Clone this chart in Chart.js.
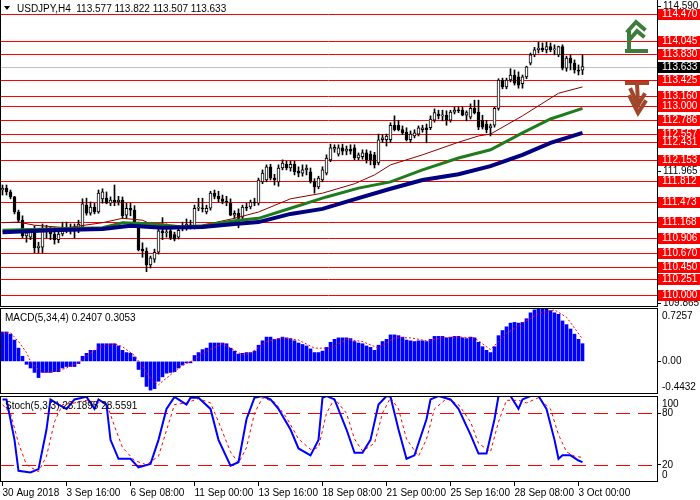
<!DOCTYPE html>
<html>
<head>
<meta charset="utf-8">
<title>USDJPY H4</title>
<script src="https://cdn.jsdelivr.net/npm/chart.js@4.4.1/dist/chart.umd.min.js"></script>
<style>
  body { margin: 0; background: #fff; }
  #wrap { position: relative; width: 700px; height: 500px; overflow: hidden; }
  canvas { position: absolute; left: 0; }
</style>
</head>
<body>
<div id="wrap">
  <canvas id="mainChart" width="700" height="307" style="top:0"></canvas>
  <canvas id="macdChart" width="700" height="87" style="top:308px"></canvas>
  <canvas id="stochChart" width="700" height="104" style="top:396px"></canvas>
</div>
<script>
// USDJPY H4 candles, 30 Aug - 3 Oct 2018
const opens = [111.67,111.70,111.64,111.56,111.32,111.19,110.94,110.92,111.02,110.75,
  110.76,111.05,111.02,110.97,110.88,110.97,111.08,111.05,111.07,111.03,
  111.08,111.43,111.30,111.40,111.32,111.53,111.54,111.46,111.51,111.48,
  111.51,111.27,111.38,111.35,111.13,110.73,110.70,110.48,110.57,110.68,
  111.02,110.99,111.02,110.96,110.92,111.05,111.08,111.11,111.08,111.38,
  111.38,111.32,111.38,111.62,111.57,111.53,111.49,111.46,111.27,111.30,
  111.24,111.40,111.40,111.48,111.46,111.80,111.83,112.04,111.86,111.80,
  112.02,112.08,112.02,112.08,111.97,111.94,111.99,111.96,111.80,111.72,
  111.83,111.94,112.15,112.32,112.24,112.34,112.29,112.32,112.34,112.18,
  112.20,112.26,112.24,112.23,112.10,112.47,112.47,112.47,112.70,112.70,
  112.63,112.59,112.47,112.53,112.56,112.63,112.66,112.66,112.78,112.88,
  112.85,112.86,112.78,112.91,112.94,112.94,112.86,112.83,112.97,112.91,
  112.78,112.72,112.66,112.70,112.97,113.42,113.31,113.42,113.50,113.47,
  113.36,113.47,113.69,113.82,113.90,113.93,113.90,113.95,113.90,113.82,
  113.95,113.61,113.77,113.69,113.58,113.577];
const highs = [111.75,111.75,111.67,111.57,111.35,111.26,111.05,111.05,111.10,110.84,
  111.13,111.11,111.08,111.07,111.03,111.16,111.16,111.13,111.13,111.19,
  111.53,111.54,111.48,111.46,111.67,111.69,111.64,111.56,111.75,111.57,
  111.56,111.46,111.46,111.42,111.16,110.83,110.75,110.62,110.73,111.07,
  111.23,111.13,111.07,111.00,111.07,111.16,111.21,111.19,111.43,111.54,
  111.54,111.43,111.65,111.67,111.65,111.59,111.57,111.53,111.34,111.37,
  111.43,111.46,111.51,111.54,111.86,111.99,112.07,112.08,111.92,112.07,
  112.15,112.13,112.13,112.13,112.04,112.07,112.07,112.02,111.85,111.89,
  112.04,112.23,112.40,112.39,112.39,112.40,112.37,112.39,112.39,112.26,
  112.31,112.31,112.29,112.27,112.56,112.55,112.56,112.74,112.85,112.78,
  112.69,112.66,112.61,112.63,112.69,112.70,112.72,112.85,112.96,112.94,
  112.94,112.93,112.94,112.99,112.99,112.99,112.93,113.04,113.10,113.10,
  112.86,112.78,112.72,112.99,113.44,113.45,113.45,113.60,113.58,113.55,
  113.50,113.64,113.85,113.94,114.02,114.01,114.02,114.01,113.98,113.96,
  113.98,113.80,113.82,113.74,113.66,113.822];
const lows = [111.59,111.59,111.53,111.29,111.16,110.91,110.84,110.88,110.67,110.67,
  110.67,110.91,110.88,110.81,110.83,110.94,110.99,110.97,110.91,110.99,
  111.03,111.27,111.27,111.29,111.30,111.46,111.45,111.42,111.42,111.43,
  111.22,111.22,111.26,111.14,110.70,110.60,110.37,110.43,110.52,110.65,
  110.88,110.92,110.88,110.86,110.89,111.02,111.03,111.05,111.05,111.34,
  111.32,111.29,111.35,111.53,111.48,111.45,111.42,111.26,111.22,111.07,
  111.21,111.34,111.37,111.42,111.43,111.77,111.80,111.83,111.75,111.73,
  111.99,111.99,111.97,111.91,111.88,111.89,111.91,111.78,111.62,111.69,
  111.80,111.91,112.12,112.27,112.21,112.23,112.23,112.24,112.15,112.15,
  112.16,112.10,112.07,112.02,112.07,112.43,112.37,112.43,112.61,112.61,
  112.55,112.45,112.43,112.50,112.53,112.59,112.42,112.63,112.75,112.80,
  112.77,112.70,112.75,112.88,112.90,112.85,112.77,112.80,112.88,112.63,
  112.64,112.58,112.53,112.67,112.94,113.28,113.28,113.39,113.34,113.29,
  113.29,113.44,113.66,113.79,113.85,113.87,113.85,113.87,113.82,113.79,
  113.58,113.56,113.58,113.53,113.50,113.507];
const closes = [111.70,111.64,111.56,111.32,111.19,110.94,110.99,111.00,110.75,110.78,
  111.05,111.02,110.97,110.88,110.97,111.08,111.05,111.07,111.03,111.13,
  111.45,111.30,111.40,111.32,111.62,111.64,111.46,111.51,111.48,111.51,
  111.26,111.38,111.35,111.16,110.72,110.70,110.48,110.59,110.68,111.02,
  110.99,111.00,110.91,110.89,111.03,111.10,111.13,111.10,111.38,111.40,
  111.37,111.38,111.62,111.57,111.53,111.49,111.48,111.27,111.30,111.22,
  111.40,111.38,111.48,111.46,111.83,111.94,112.04,111.86,111.83,112.02,
  112.10,112.02,112.08,111.96,111.94,111.99,112.02,111.80,111.72,111.86,
  111.99,112.18,112.34,112.35,112.34,112.29,112.32,112.29,112.18,112.23,
  112.26,112.15,112.15,112.07,112.47,112.50,112.53,112.70,112.63,112.63,
  112.58,112.47,112.56,112.58,112.66,112.66,112.63,112.80,112.90,112.85,
  112.86,112.78,112.91,112.94,112.93,112.86,112.90,112.97,112.90,112.67,
  112.67,112.63,112.69,112.97,113.42,113.31,113.42,113.50,113.37,113.34,
  113.47,113.63,113.82,113.90,113.93,113.90,113.95,113.90,113.91,113.95,
  113.61,113.77,113.69,113.58,113.56,113.633];

// moving averages, read at a few bars
const maFastIdx = [0,4,8,16,25,30,35,38,45,50,58,64,72,80,88,93,97,105,114,119,122,130,139,145];
const maFast = [111.15,111.16,111.11,111.07,111.15,111.22,111.19,111.10,111.07,111.11,
  111.22,111.32,111.53,111.62,111.77,111.91,112.07,112.23,112.43,112.53,112.56,112.85,113.21,113.31];
const maMidIdx = [0,12,25,30,38,45,50,58,64,72,81,89,97,105,114,122,130,137,145];
const maMid = [111.03,111.05,111.07,111.15,111.13,111.08,111.10,111.18,111.22,111.38,
  111.56,111.70,111.80,111.99,112.18,112.31,112.58,112.80,112.97];
const maSlowIdx = [0,12,25,32,40,50,58,64,72,80,89,97,105,114,122,130,137,145];
const maSlow = [111.00,111.03,111.05,111.10,111.07,111.08,111.13,111.16,111.29,111.37,
  111.54,111.69,111.83,111.92,112.05,112.23,112.42,112.58];

const levels = [114.470,114.045,113.830,113.425,113.160,113.000,112.786,112.557,112.431,
  112.153,111.812,111.473,111.168,110.906,110.670,110.450,110.251,110.000];
const lastPrice = 113.633;
const priceTicks = [114.590, 111.965, 109.865];
const priceRange = [109.809, 114.693];

const arrowBars = [156, 156];
const arrowPrices = [113.87, 113.37];
const arrowDirs = ['up', 'down'];

// MACD(5,34,4)
const macdHist = [0.40,0.40,0.37,0.29,0.18,0.07,-0.04,-0.09,-0.15,-0.22,
  -0.15,-0.15,-0.15,-0.14,-0.14,-0.09,-0.07,-0.07,-0.07,-0.03,
  0.07,0.11,0.15,0.15,0.24,0.24,0.24,0.24,0.24,0.21,
  0.15,0.12,0.11,0.06,-0.11,-0.21,-0.34,-0.39,-0.37,-0.27,
  -0.21,-0.16,-0.15,-0.14,-0.09,-0.05,-0.02,-0.02,0.08,0.12,
  0.16,0.18,0.25,0.25,0.25,0.25,0.24,0.18,0.14,0.10,
  0.11,0.12,0.12,0.14,0.22,0.28,0.33,0.33,0.30,0.31,
  0.33,0.32,0.31,0.28,0.25,0.23,0.21,0.17,0.12,0.12,
  0.14,0.19,0.26,0.30,0.32,0.32,0.32,0.31,0.27,0.25,
  0.24,0.21,0.19,0.15,0.22,0.27,0.30,0.36,0.36,0.35,
  0.33,0.29,0.28,0.27,0.28,0.28,0.27,0.30,0.34,0.34,
  0.34,0.32,0.33,0.34,0.34,0.32,0.31,0.33,0.32,0.26,
  0.20,0.15,0.12,0.20,0.35,0.42,0.47,0.52,0.53,0.52,
  0.53,0.58,0.66,0.70,0.72,0.72,0.71,0.69,0.66,0.64,
  0.55,0.50,0.44,0.37,0.30,0.2407];
const macdSigIdx = [0,2,4,6,7,9,10,13,16,19,22,24,28,30,33,35,37,39,40,43,
  45,48,50,53,55,58,60,62,66,70,74,78,82,86,90,94,98,102,106,110,
  114,118,122,126,130,134,138,141,145];
const macdSig = [0.39,0.39,0.27,0.12,0.00,-0.11,-0.15,-0.14,-0.09,-0.02,
  0.11,0.19,0.24,0.20,0.08,-0.07,-0.23,-0.32,-0.27,-0.14,
  -0.05,0.02,0.11,0.19,0.24,0.15,0.09,0.11,0.27,0.32,
  0.29,0.18,0.18,0.30,0.27,0.18,0.32,0.32,0.28,0.32,
  0.33,0.32,0.16,0.38,0.52,0.65,0.70,0.60,0.3053];
const macdTicks = [0.7257, 0, -0.4432];

// Stochastic(5,3,3)
const stochKIdx = [0,1,3,4,7,9,11,12,14,16,18,21,23,24,26,27,29,32,34,37,
  39,41,43,46,47,49,52,54,57,59,61,63,65,67,69,72,74,77,79,80,
  81,83,86,88,90,92,94,96,97,99,101,103,106,107,109,112,114,117,119,121,
  123,124,125,127,129,130,132,134,136,138,139,140,142,144,145];
const stochK = [96,96,49,13,11,15,61,96,90,85,96,99,85,96,90,49,27,27,17,21,
  49,85,99,90,98,98,85,49,19,23,73,98,100,96,85,61,39,31,49,98,
  100,96,61,34,34,49,90,100,99,61,27,31,73,96,100,96,85,55,33,33,
  73,100,100,100,85,96,100,100,85,49,27,31,31,25,23.1895];
const stochDIdx = [0,2,4,6,9,11,13,15,18,21,24,26,28,30,33,36,39,41,43,46,
  49,52,54,57,59,61,63,65,68,71,74,77,79,81,83,86,88,90,93,95,
  97,99,101,104,106,108,111,114,117,119,122,124,126,129,131,134,137,139,141,143,145];
const stochD = [90,80,45,20,12,30,70,90,92,95,92,92,65,40,25,20,30,60,90,92,
  97,92,70,35,22,40,80,98,93,75,50,38,40,80,97,80,50,36,45,80,
  98,85,50,30,50,85,97,90,70,45,35,70,95,95,92,98,85,55,35,30,28.5591];
const stochLevels = [80, 20];
const stochTicks = [100, 80, 20, 0];

const timeIdx = [0,16,32,48,64,80,96,112,128,144];
const timeLabels = ['30 Aug 2018','3 Sep 16:00','6 Sep 08:00','11 Sep 00:00','13 Sep 16:00',
  '18 Sep 08:00','21 Sep 00:00','25 Sep 16:00','28 Sep 08:00','3 Oct 00:00'];

Chart.defaults.font.family = '"Liberation Sans", Arial, sans-serif';
Chart.defaults.font.size = 10;
Chart.defaults.color = '#000';

const bars = opens.map((_, i) => i);
const pts = (idx, vals) => idx.map((x, k) => ({ x: x, y: vals[k] }));
const last = opens.length - 1;

const xHidden = { type: 'linear', min: -0.625, max: 163.625, offset: false, display: false };
const fitRight = s => { s.width = 43; s.paddingTop = 0; s.paddingBottom = 0; };
const common = {
  responsive: false,
  animation: false,
  events: [],
  layout: { padding: 0, autoPadding: false }
};

// black frame round each panel
const frame = {
  id: 'frame',
  defaults: { top: true },
  afterDraw(chart, args, opts) {
    const { ctx, chartArea: a } = chart;
    ctx.save();
    ctx.strokeStyle = '#000';
    ctx.lineWidth = 1;
    ctx.beginPath();
    if (opts.top) { ctx.moveTo(a.left, a.top + 0.5); ctx.lineTo(a.right + 0.5, a.top + 0.5); }
    ctx.moveTo(a.left + 0.5, a.top); ctx.lineTo(a.left + 0.5, a.bottom);
    ctx.moveTo(a.right + 0.5, a.top); ctx.lineTo(a.right + 0.5, a.bottom);
    ctx.moveTo(a.left, a.bottom - 0.5); ctx.lineTo(a.right + 1, a.bottom - 0.5);
    ctx.stroke();
    ctx.restore();
  }
};

// panel caption plus labels at the top and bottom edge of the right scale
const panelText = {
  id: 'panelText',
  afterDraw(chart, args, opts) {
    if (!opts.caption) return;
    const { ctx, chartArea: a } = chart;
    ctx.save();
    ctx.font = '10px "Liberation Sans"';
    ctx.fillStyle = '#000';
    ctx.textBaseline = 'middle';
    ctx.fillText(opts.caption, 5, a.top + 10);
    if (opts.edgeTop) ctx.fillText(opts.edgeTop, a.right + 5, a.top + 8);
    if (opts.edgeBottom) ctx.fillText(opts.edgeBottom, a.right + 5, a.bottom - 7);
    ctx.restore();
  }
};

// horizontal levels, price tags, title and the two arrows on the price panel
const priceDecor = {
  id: 'priceDecor',
  beforeDatasetsDraw(chart) {
    const { ctx, chartArea: a, scales: { y } } = chart;
    ctx.save();
    ctx.lineWidth = 1;
    const hline = (v, color) => {
      const py = Math.round(y.getPixelForValue(v)) + 0.5;
      ctx.strokeStyle = color;
      ctx.beginPath(); ctx.moveTo(a.left, py); ctx.lineTo(a.right, py); ctx.stroke();
    };
    hline(lastPrice, '#c0c0c0');
    levels.forEach(v => hline(v, '#ff0000'));
    ctx.restore();
  },
  afterDraw(chart) {
    const { ctx, chartArea: a, scales: { x, y } } = chart;
    ctx.save();
    ctx.font = '10px "Liberation Sans"';
    ctx.textBaseline = 'middle';
    const tag = (v, bg) => {
      const py = Math.round(y.getPixelForValue(v));
      ctx.fillStyle = bg;
      ctx.fillRect(a.right + 1, py - 5, chart.width - a.right - 1, 11);
      ctx.fillStyle = '#fff';
      ctx.fillText(v.toFixed(3), a.right + 5, py + 0.5);
    };
    levels.forEach(v => tag(v, '#ff0000'));
    tag(lastPrice, '#000');

    // title
    ctx.fillStyle = '#000';
    ctx.beginPath(); ctx.moveTo(4, 6); ctx.lineTo(10, 6); ctx.lineTo(7, 10); ctx.closePath(); ctx.fill();
    const ohlc = [opens[last], highs[last], lows[last], closes[last]].map(v => v.toFixed(3)).join(' ');
    ctx.fillText('USDJPY,H4  ' + ohlc, 17, 9);

    // arrows
    ctx.lineWidth = 4;
    ctx.lineCap = 'square';
    ctx.lineJoin = 'miter';
    arrowDirs.forEach((dir, k) => {
      const ax = Math.round(x.getPixelForValue(arrowBars[k]));
      const ay = Math.round(y.getPixelForValue(arrowPrices[k]));
      const paths = dir === 'up'
        ? [[[0, -1], [19, -1]], [[2, -1], [2, -19]], [[1, -21], [9, -30], [17, -23]], [[4, -14], [10, -21], [16, -16]]]
        : [[[0, 0], [20, 0]], [[10, 0], [11, 20]], [[3, 14], [11, 30], [18, 19]], [[4, 7], [11, 22], [17, 12]]];
      ctx.strokeStyle = dir === 'up' ? '#3c7d3c' : '#a0462a';
      paths.forEach(p => {
        ctx.beginPath();
        p.forEach(([dx, dy], n) => n ? ctx.lineTo(ax + dx, ay + dy) : ctx.moveTo(ax + dx, ay + dy));
        ctx.stroke();
      });
    });
    ctx.restore();
  }
};

// dashed 80 / 20 lines on the stochastic
const stochLevelLines = {
  id: 'stochLevelLines',
  beforeDatasetsDraw(chart) {
    const { ctx, chartArea: a, scales: { y } } = chart;
    ctx.save();
    ctx.strokeStyle = '#ff0000';
    ctx.lineWidth = 1;
    ctx.setLineDash([14, 8]);
    stochLevels.forEach(v => {
      const py = Math.round(y.getPixelForValue(v)) + 0.5;
      ctx.beginPath(); ctx.moveTo(a.left, py); ctx.lineTo(a.right, py); ctx.stroke();
    });
    ctx.restore();
  }
};

// Price panel
new Chart(document.getElementById('mainChart'), {
  type: 'bar',
  data: {
    datasets: [
      {
        type: 'line', data: pts(maSlowIdx, maSlow), borderColor: '#000080', borderWidth: 4,
        pointRadius: 0, tension: 0, order: 1
      },
      {
        type: 'line', data: pts(maMidIdx, maMid), borderColor: '#1e7b1e', borderWidth: 3,
        pointRadius: 0, tension: 0, order: 2
      },
      {
        type: 'line', data: pts(maFastIdx, maFast), borderColor: '#8b0000', borderWidth: 1,
        pointRadius: 0, tension: 0, order: 3
      },
      {
        data: bars.map(i => ({ x: i, y: [opens[i], closes[i]] })),
        backgroundColor: bars.map(i => closes[i] >= opens[i] ? '#ffffff' : '#000000'),
        borderColor: '#000', borderWidth: 1, borderSkipped: false,
        barThickness: 3, minBarLength: 1, grouped: false, order: 4
      },
      {
        data: bars.map(i => ({ x: i, y: [lows[i], highs[i]] })),
        backgroundColor: '#000', borderWidth: 0,
        barThickness: 1, grouped: false, order: 5
      }
    ]
  },
  options: {
    ...common,
    scales: {
      x: xHidden,
      y: {
        position: 'right', min: priceRange[0], max: priceRange[1],
        afterFit: fitRight,
        afterBuildTicks: s => { s.ticks = priceTicks.map(v => ({ value: v })); },
        ticks: { callback: v => v.toFixed(3), padding: 2, autoSkip: false },
        grid: { drawOnChartArea: false, tickLength: 4, color: '#000' },
        border: { display: false }
      }
    },
    plugins: { legend: { display: false }, tooltip: { enabled: false }, frame: { top: false } }
  },
  plugins: [priceDecor, frame]
});

// MACD panel
new Chart(document.getElementById('macdChart'), {
  type: 'bar',
  data: {
    datasets: [
      {
        type: 'line', data: pts(macdSigIdx, macdSig), borderColor: '#ff0000', borderWidth: 1,
        borderDash: [2, 2], pointRadius: 0, tension: 0, order: 1
      },
      {
        data: macdHist.map((v, i) => ({ x: i, y: v })), backgroundColor: '#0000ff',
        barThickness: 3, order: 2
      }
    ]
  },
  options: {
    ...common,
    layout: { padding: { bottom: 1 }, autoPadding: false },
    scales: {
      x: xHidden,
      y: {
        position: 'right', min: macdTicks[2], max: macdTicks[0],
        afterFit: fitRight,
        afterBuildTicks: s => { s.ticks = [{ value: macdTicks[1] }]; },
        ticks: { callback: v => v.toFixed(2), padding: 1 },
        grid: { drawOnChartArea: false, tickLength: 4, color: '#000' },
        border: { display: false }
      }
    },
    plugins: {
      legend: { display: false }, tooltip: { enabled: false },
      panelText: {
        caption: 'MACD(5,34,4) ' + macdHist[last].toFixed(4) + ' ' + macdSig[macdSig.length - 1].toFixed(4),
        edgeTop: macdTicks[0].toFixed(4), edgeBottom: macdTicks[2].toFixed(4)
      }
    }
  },
  plugins: [frame, panelText]
});

// Stochastic panel with the time axis
new Chart(document.getElementById('stochChart'), {
  type: 'line',
  data: {
    datasets: [
      {
        data: pts(stochDIdx, stochD), borderColor: '#ff0000', borderWidth: 1,
        borderDash: [3, 3], pointRadius: 0, tension: 0, order: 2
      },
      {
        data: pts(stochKIdx, stochK), borderColor: '#0000ff', borderWidth: 2,
        pointRadius: 0, tension: 0, order: 1
      }
    ]
  },
  options: {
    ...common,
    scales: {
      x: {
        type: 'linear', min: -0.625, max: 163.625, offset: false,
        afterFit: s => { s.height = 18; s.paddingLeft = 0; s.paddingRight = 0; },
        afterBuildTicks: s => { s.ticks = timeIdx.map(v => ({ value: v })); },
        ticks: {
          callback: (v, k) => timeLabels[k], align: 'start', padding: 1,
          autoSkip: false, maxRotation: 0, minRotation: 0
        },
        grid: { drawOnChartArea: false, tickLength: 4, color: '#000' },
        border: { display: false }
      },
      y: {
        position: 'right', min: stochTicks[3], max: stochTicks[0],
        afterFit: fitRight,
        afterBuildTicks: s => { s.ticks = [{ value: stochTicks[1] }, { value: stochTicks[2] }]; },
        ticks: { callback: v => String(v), padding: 1 },
        grid: { drawOnChartArea: false, tickLength: 4, color: '#000' },
        border: { display: false }
      }
    },
    plugins: {
      legend: { display: false }, tooltip: { enabled: false },
      panelText: {
        caption: 'Stoch(5,3,3) ' + stochK[stochK.length - 1].toFixed(4) + ' ' + stochD[stochD.length - 1].toFixed(4),
        edgeTop: String(stochTicks[0]), edgeBottom: String(stochTicks[3])
      }
    }
  },
  plugins: [stochLevelLines, frame, panelText]
});
</script>
</body>
</html>
